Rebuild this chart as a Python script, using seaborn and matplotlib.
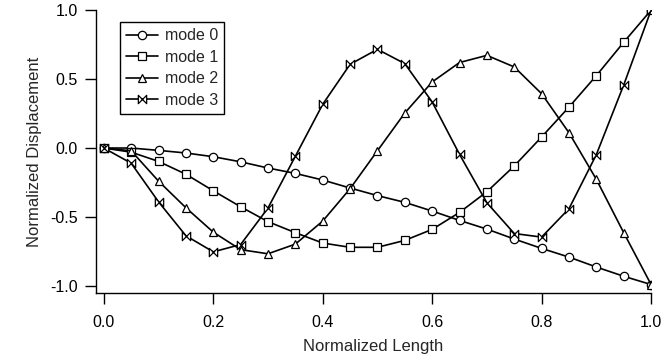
import numpy as np
import pandas as pd
import matplotlib
matplotlib.use("Agg")
import matplotlib.pyplot as plt
from matplotlib.path import Path
import seaborn as sns

length = [0.00, 0.05, 0.10, 0.15, 0.20, 0.25, 0.30, 0.35, 0.40, 0.45, 0.50,
          0.55, 0.60, 0.65, 0.70, 0.75, 0.80, 0.85, 0.90, 0.95, 1.00]
mode0 = [0.0, 0.0, -0.017, -0.036, -0.063, -0.10, -0.145, -0.184, -0.232, -0.29, -0.345,
         -0.394, -0.457, -0.525, -0.588, -0.66, -0.728, -0.791, -0.863, -0.93, -0.99]
mode1 = [0.0, -0.03, -0.097, -0.19, -0.31, -0.426, -0.534, -0.614, -0.689, -0.72, -0.72,
         -0.67, -0.59, -0.467, -0.317, -0.13, 0.08, 0.297, 0.525, 0.767, 1.0]
mode2 = [0.0, -0.02, -0.24, -0.433, -0.61, -0.737, -0.767, -0.697, -0.53, -0.295, -0.02,
         0.254, 0.479, 0.62, 0.672, 0.588, 0.394, 0.111, -0.227, -0.614, -0.99]
mode3 = [0.0, -0.11, -0.39, -0.636, -0.753, -0.70, -0.435, -0.06, 0.317, 0.607, 0.716,
         0.612, 0.334, -0.046, -0.397, -0.62, -0.646, -0.44, -0.048, 0.457, 1.0]
mode_names = ["mode 0", "mode 1", "mode 2", "mode 3"]

# bowtie marker for mode 3
bowtie = Path([(-1, -1), (-1, 1), (1, -1), (1, 1), (-1, -1)],
              [Path.MOVETO, Path.LINETO, Path.LINETO, Path.LINETO, Path.CLOSEPOLY])
marker_list = ["o", "s", "^", bowtie]

sns.set_style("ticks")
plt.rcParams['font.family'] = ['Liberation Sans', 'DejaVu Sans']

fig = plt.figure(figsize=(6.63, 3.62), dpi=100)
ax = fig.add_axes([0.145, 0.19, 0.837, 0.782])

for name, ys, mk in zip(mode_names, [mode0, mode1, mode2, mode3], marker_list):
    sns.lineplot(x=length, y=ys, ax=ax, color="black", linewidth=1.2,
                 marker=mk, markersize=6, markerfacecolor="white",
                 markeredgecolor="black", markeredgewidth=0.9, label=name)

ax.set_xlim(-0.014, 1.0)
ax.set_ylim(-1.053, 1.0)
ax.set_xticks([0.0, 0.2, 0.4, 0.6, 0.8, 1.0])
ax.set_yticks([-1.0, -0.5, 0.0, 0.5, 1.0])
ax.xaxis.set_major_formatter(matplotlib.ticker.FormatStrFormatter('%.1f'))
ax.yaxis.set_major_formatter(matplotlib.ticker.FormatStrFormatter('%.1f'))
ax.tick_params(direction='out', length=8, width=1, colors='black', labelsize=11.5, pad=5)
ax.tick_params(axis='x', pad=8)
sns.despine(ax=ax)
for s in ["left", "bottom"]:
    ax.spines[s].set_color("black")
    ax.spines[s].set_linewidth(1)

ax.set_xlabel("Normalized Length", fontsize=12, labelpad=6)
ax.set_ylabel("Normalized Displacement", fontsize=12, labelpad=6)

leg = ax.legend(loc="upper left", bbox_to_anchor=(0.043, 0.958), borderaxespad=0,
                fancybox=False, frameon=True, edgecolor="black", fontsize=11.5,
                handlelength=2.0, labelspacing=0.4, borderpad=0.4, handletextpad=0.4)
leg.get_frame().set_linewidth(1)
leg.get_frame().set_alpha(1)

fig.savefig("out.png", dpi=100)
